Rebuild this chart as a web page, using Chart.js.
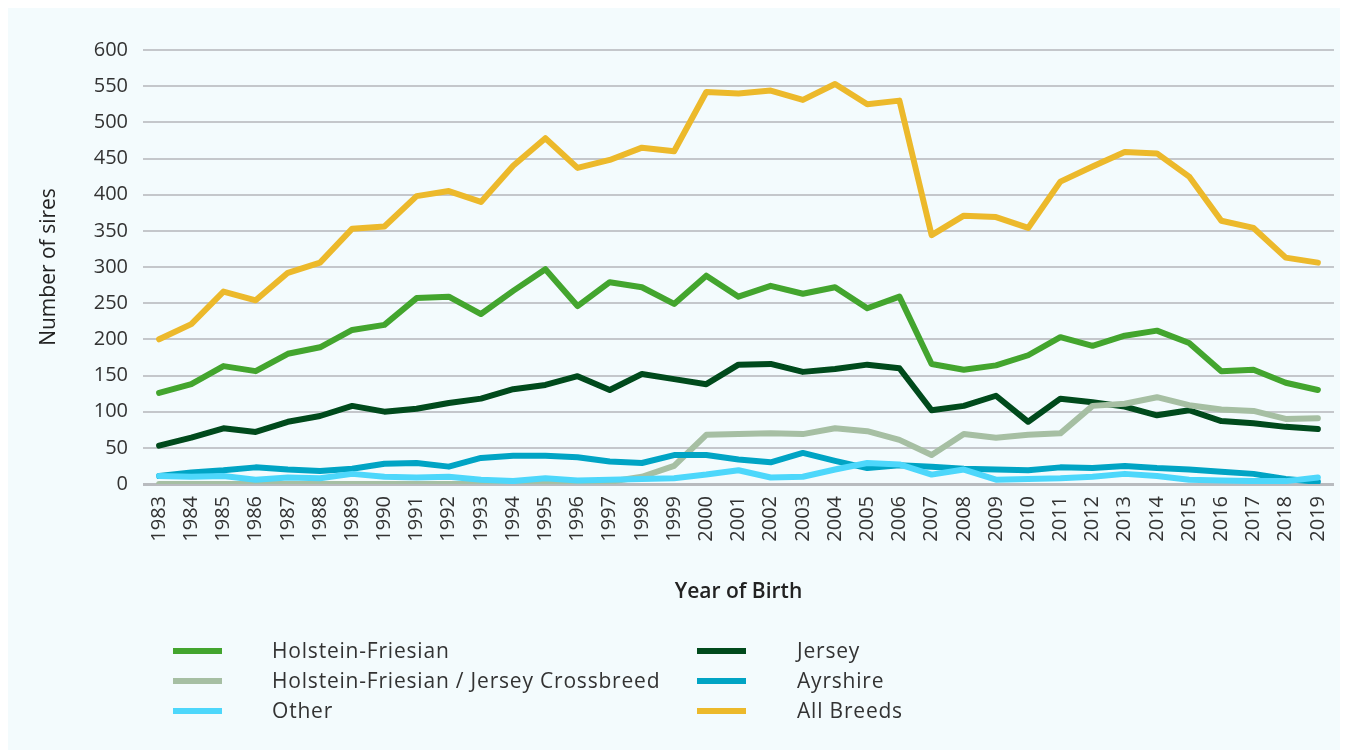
<!DOCTYPE html>
<html>
<head>
<meta charset="utf-8">
<script src="https://cdn.jsdelivr.net/npm/chart.js@4/dist/chart.umd.min.js"></script>
<style>
  html, body { margin: 0; padding: 0; background: #ffffff; }
  #page { position: relative; width: 1346px; height: 756px; overflow: hidden; }
  #panel { position: absolute; left: 8px; top: 8px; width: 1332px; height: 742px; background: #f3fbfd; }
  #wrap { position: absolute; left: 0; top: 0; width: 1346px; height: 756px; }
  .legend { position: absolute; font-family: "Open Sans", sans-serif; font-size: 21px; color: #333; letter-spacing: 0.8px; }
  .item { position: absolute; white-space: nowrap; line-height: 22px; }
  .swatch { position: absolute; width: 49px; height: 6px; }
</style>
</head>
<body>
<div id="page">
  <div id="panel"></div>
  <div id="wrap"><canvas id="chart" width="1346" height="756"></canvas></div>
  <div id="legend" class="legend"></div>
</div>
<script>
const years = ["1983","1984","1985","1986","1987","1988","1989","1990","1991","1992",
  "1993","1994","1995","1996","1997","1998","1999","2000","2001","2002",
  "2003","2004","2005","2006","2007","2008","2009","2010","2011","2012",
  "2013","2014","2015","2016","2017","2018","2019"];

const holsteinFriesian = [126,138,163,156,180,189,213,220,257,259,
  235,267,297,246,279,272,249,288,259,274,
  263,272,243,259,166,158,164,178,203,191,
  205,212,195,156,158,140,130];

const jersey = [53,64,77,72,86,94,108,100,104,112,
  118,131,137,149,130,152,145,138,165,166,
  155,159,165,160,102,108,122,86,118,113,
  107,95,102,87,84,79,76];

const crossbreed = [0,0,0,0,0,0,0,0,0,0,
  0,0,0,0,3,10,25,68,69,70,
  69,77,73,61,40,69,64,68,70,108,
  111,120,109,103,101,90,91];

const ayrshire = [11,16,19,23,20,18,21,28,29,24,
  36,39,39,37,31,29,40,40,34,30,
  43,32,22,26,24,21,20,19,23,22,
  25,22,20,17,14,7,3];

const other = [11,10,11,6,9,8,14,10,9,10,
  6,4,8,5,6,7,8,13,19,9,
  10,20,29,27,13,20,6,7,8,10,
  14,11,6,5,4,4,9];

const allBreeds = [200,221,266,254,292,306,353,356,398,405,
  390,440,478,437,448,465,460,542,540,544,
  531,553,525,530,344,371,369,354,418,439,
  459,457,425,364,354,313,306];

const seriesNames = ["Holstein-Friesian","Jersey","Holstein-Friesian / Jersey Crossbreed","Ayrshire","Other","All Breeds"];
const seriesData = [holsteinFriesian, jersey, crossbreed, ayrshire, other, allBreeds];
const seriesColors = ["#43a52e","#004a1c","#a6bfa3","#00a4c4","#4dd7fb","#ecb92b"];
const yTicks = [0,50,100,150,200,250,300,350,400,450,500,550,600];

const datasets = seriesNames.map((name, i) => ({
  label: name,
  data: seriesData[i],
  borderColor: seriesColors[i],
  backgroundColor: seriesColors[i],
  borderWidth: 6,
  pointRadius: 0,
  tension: 0,
  borderCapStyle: "round",
  borderJoinStyle: "round",
  order: seriesNames.length - i
}));

const font = "'Open Sans', sans-serif";

new Chart(document.getElementById("chart").getContext("2d"), {
  type: "line",
  data: { labels: years, datasets: datasets },
  options: {
    responsive: false,
    animation: false,
    layout: { padding: { left: 33, right: 9, top: 50, bottom: 148 } },
    plugins: {
      legend: { display: false },
      tooltip: { enabled: false }
    },
    scales: {
      x: {
        offset: true,
        grid: { display: false },
        border: { display: false },
        ticks: {
          color: "#333",
          font: { family: font, size: 20 },
          maxRotation: 90,
          minRotation: 90,
          padding: 4,
          autoSkip: false
        },
        title: {
          display: true,
          text: "Year of Birth",
          color: "#222",
          font: { family: font, size: 21, weight: "600" },
          padding: { top: 4, bottom: 3 }
        },
        afterFit: (s) => { s.height = 124; }
      },
      y: {
        min: 0,
        max: 600,
        afterBuildTicks: (s) => { s.ticks = yTicks.map(v => ({ value: v })); },
        grid: {
          color: (c) => c.tick && c.tick.value === 0 ? "#b8bbbf" : "#c4c7cb",
          lineWidth: (c) => c.tick && c.tick.value === 0 ? 3 : 2,
          drawTicks: false
        },
        border: { display: false },
        ticks: {
          color: "#333",
          font: { family: font, size: 20 },
          padding: 15
        },
        title: {
          display: true,
          text: "Number of sires",
          color: "#222",
          font: { family: font, size: 21 },
          padding: { top: 3, bottom: 4 }
        },
        afterFit: (s) => { s.width = 110; }
      }
    }
  }
});

// two-column legend like the original
const legend = document.getElementById("legend");
seriesNames.forEach((name, k) => {
  const col = k % 2;
  const row = Math.floor(k / 2);
  const swatch = document.createElement("div");
  swatch.className = "swatch";
  swatch.style.background = seriesColors[k];
  swatch.style.left = (col === 0 ? 173 : 697) + "px";
  swatch.style.top = (648 + row * 30) + "px";
  legend.appendChild(swatch);
  const lab = document.createElement("div");
  lab.className = "item";
  lab.textContent = name;
  lab.style.left = (col === 0 ? 272 : 797) + "px";
  lab.style.top = (639 + row * 30) + "px";
  legend.appendChild(lab);
});
</script>
</body>
</html>
